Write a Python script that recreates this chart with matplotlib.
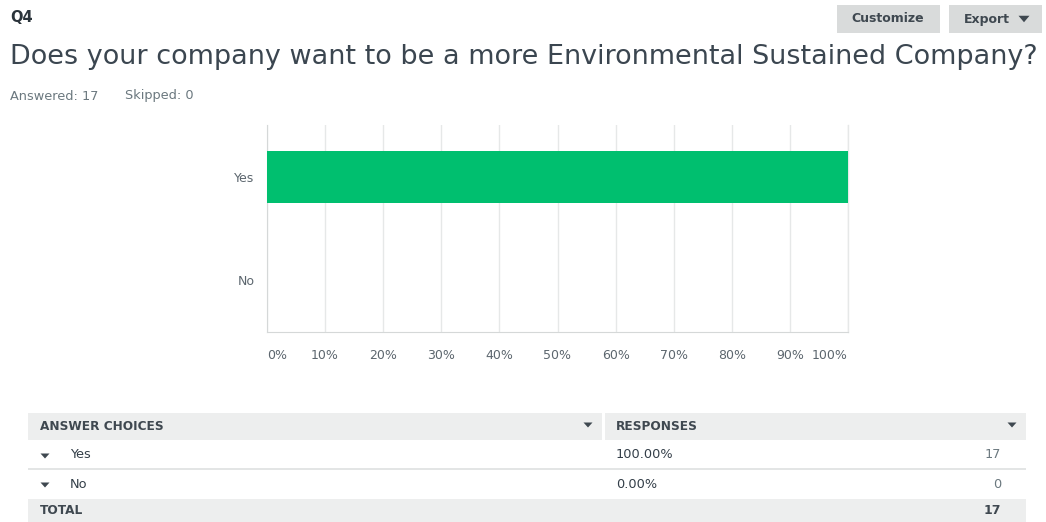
import matplotlib
matplotlib.use("Agg")
import matplotlib.pyplot as plt
from matplotlib.patches import Rectangle, Polygon
from matplotlib.ticker import PercentFormatter

# ---- data ----
question_id = "Q4"
question = "Does your company want to be a more Environmental Sustained Company?"
answered = 17
skipped = 0
choices = ["Yes", "No"]
percents = [100.0, 0.0]
counts = [17, 0]
x_ticks = [0, 10, 20, 30, 40, 50, 60, 70, 80, 90, 100]

# ---- styling ----
W, H = 1046, 522
GREEN = "#00bf6f"
TEXT = "#333e48"
MUTED = "#6b787f"
TICK = "#5c666e"
GRID = "#e6e8e8"
HEADER_BG = "#edeeee"
BUTTON_BG = "#d9dbdb"
DARK = "#3f4850"

plt.rcParams["font.family"] = ["DejaVu Sans"]
fig = plt.figure(figsize=(W / 100, H / 100), dpi=100)
fig.patch.set_facecolor("white")


def fx(px):
    return px / W


def fy(py):
    return 1 - py / H


def rect(x0, y0, x1, y1, color):
    fig.patches.append(Rectangle((fx(x0), fy(y1)), fx(x1 - x0), (y1 - y0) / H,
                                 transform=fig.transFigure, facecolor=color,
                                 edgecolor="none", zorder=0))


def tri(cx, cy, w, h, color):
    pts = [(fx(cx - w / 2), fy(cy - h / 2)), (fx(cx + w / 2), fy(cy - h / 2)),
           (fx(cx), fy(cy + h / 2))]
    fig.patches.append(Polygon(pts, closed=True, transform=fig.transFigure,
                               facecolor=color, edgecolor="none", zorder=2))


def txt(x, y, s, size, color=TEXT, weight="normal", ha="left"):
    return fig.text(fx(x), fy(y), s, fontsize=size, color=color, weight=weight,
                    ha=ha, va="center")


# ---- header ----
txt(10, 18, question_id, 10.5, color="#2b343b", weight="bold")
title = txt(10, 57, question, 17, color="#3b4650")
# scale the title so it spans the page width
renderer = fig.canvas.get_renderer()
w = title.get_window_extent(renderer).width
title.set_fontsize(17 * 1025 / w)

txt(10, 96, f"Answered: {answered}", 9.3, color=MUTED)
txt(125, 96, f"Skipped: {skipped}", 9.3, color=MUTED)

rect(837, 5, 940, 33, BUTTON_BG)
txt(888, 19, "Customize", 9, color=DARK, weight="bold", ha="center")
rect(949, 5, 1042, 33, BUTTON_BG)
txt(964, 19, "Export", 9, color=DARK, weight="bold")
tri(1024, 19, 11, 6.5, DARK)

# ---- bar chart ----
ax = fig.add_axes([fx(267), fy(332), fx(848 - 267), (332 - 125) / H])
ypos = list(range(len(choices)))
ax.barh(ypos, percents, height=0.5, color=GREEN, zorder=3)
ax.set_xlim(0, 100)
ax.set_ylim(len(choices) - 0.5, -0.5)
ax.set_yticks(ypos)
ax.set_yticklabels(choices)
ax.set_xticks(x_ticks)
ax.xaxis.set_major_formatter(PercentFormatter(decimals=0))
ax.tick_params(axis="both", length=0, labelsize=9, labelcolor=TICK)
ax.tick_params(axis="x", pad=12)
ax.tick_params(axis="y", pad=9)
xlabels = ax.get_xticklabels()
xlabels[0].set_horizontalalignment("left")
xlabels[-1].set_horizontalalignment("right")
ax.grid(axis="x", color=GRID, linewidth=1, zorder=0)
ax.axvline(x_ticks[-1], color=GRID, linewidth=1, zorder=0, clip_on=False)
for side in ("top", "right"):
    ax.spines[side].set_visible(False)
for side in ("left", "bottom"):
    ax.spines[side].set_color("#d5d8d8")
ax.set_facecolor("white")

# ---- summary table ----
rect(28, 413, 602, 440, HEADER_BG)
rect(605, 413, 1026, 440, HEADER_BG)
txt(40, 427, "ANSWER CHOICES", 8.7, color=DARK, weight="bold")
txt(616, 427, "RESPONSES", 8.7, color=DARK, weight="bold")
tri(588, 425, 9, 5, DARK)
tri(1012, 425, 9, 5, DARK)

row_y = [455, 484]
for y, name, pct, cnt in zip(row_y, choices, percents, counts):
    tri(45, y + 1, 9, 5, DARK)
    txt(70, y, name, 9.3, color=TEXT)
    txt(616, y, f"{pct:.2f}%", 9.3, color=TEXT)
    txt(1001, y, str(cnt), 9.3, color=MUTED, ha="right")
rect(28, 468, 1026, 470, "#e3e5e5")

rect(28, 499, 1026, 522, HEADER_BG)
txt(40, 511, "TOTAL", 8.7, color=DARK, weight="bold")
txt(1001, 511, str(sum(counts)), 9, color=DARK, weight="bold", ha="right")

fig.savefig("out.png", dpi=100, facecolor="white")
